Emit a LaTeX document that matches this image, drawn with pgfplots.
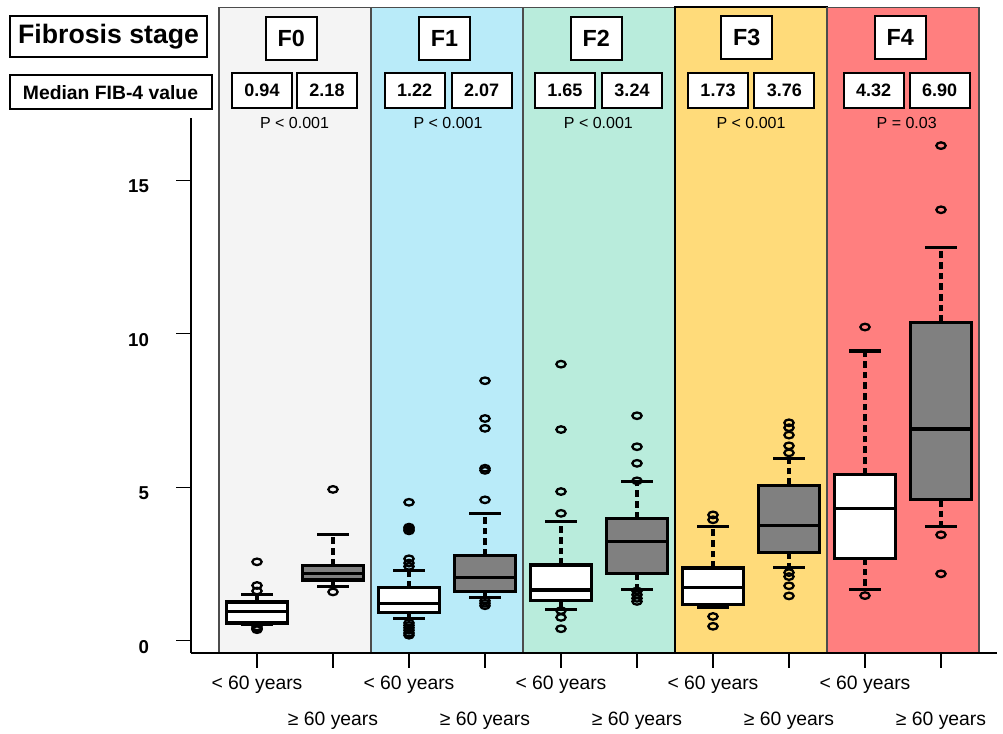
\documentclass[border=0pt]{standalone}
\usepackage{fontspec}
\setmainfont{Liberation Sans}
\usepackage{pgfplots}
\pgfplotsset{compat=1.18}
\usepgfplotslibrary{statistics}

\definecolor{cFa}{RGB}{244,244,244}
\definecolor{cFb}{RGB}{185,235,249}
\definecolor{cFc}{RGB}{185,236,220}
\definecolor{cFd}{RGB}{255,219,122}
\definecolor{cFe}{RGB}{255,127,127}
\definecolor{boxgray}{RGB}{128,128,128}

\pgfplotsset{
  boxplot/draw/lower whisker/.code={%
    \draw[line width=2.3pt, dash pattern=on 5pt off 3pt]
      (boxplot box cs:\pgfplotsboxplotvalue{lower quartile},0.5) --
      (boxplot box cs:\pgfplotsboxplotvalue{lower whisker},0.5);
    \draw[line width=2.3pt, solid]
      (boxplot whisker cs:\pgfplotsboxplotvalue{lower whisker},0) --
      (boxplot whisker cs:\pgfplotsboxplotvalue{lower whisker},1);
  },
  boxplot/draw/upper whisker/.code={%
    \draw[line width=2.3pt, dash pattern=on 5pt off 3pt]
      (boxplot box cs:\pgfplotsboxplotvalue{upper quartile},0.5) --
      (boxplot box cs:\pgfplotsboxplotvalue{upper whisker},0.5);
    \draw[line width=2.3pt, solid]
      (boxplot whisker cs:\pgfplotsboxplotvalue{upper whisker},0) --
      (boxplot whisker cs:\pgfplotsboxplotvalue{upper whisker},1);
  },
  rb/.style={draw=black, line width=2.4pt, solid,
    mark=o, mark size=3.5pt,
    mark options={yscale=0.7, line width=1.7pt, solid, draw=black},
    boxplot/every box/.style={fill=#1},
    boxplot/every median/.style={line width=2.4pt}},
  boxplot/draw direction=y,
  boxplot/box extend=0.8,
  boxplot/whisker extend=0.42,
}
\tikzset{
  hbox/.style={draw=black, line width=1.5pt, fill=white, inner sep=0pt,
    align=center},
}

\begin{document}
\begin{tikzpicture}
\path (0,0) rectangle (752.25pt,-549.75pt);
\begin{axis}[
  at={(143.25pt,-489.75pt)}, anchor=south west,
  scale only axis, width=604.5pt, height=401.25pt,
  xmin=0.1316, xmax=10.737, ymin=-0.40, ymax=17.03,
  axis x line*=bottom, axis y line*=left,
  axis line style={line width=1.9pt, -},
  clip=false, axis on top,
  xtick={1,3,5,7,9},
  xticklabels={< 60 years,< 60 years,< 60 years,< 60 years,< 60 years},
  extra x ticks={2,4,6,8,10},
  extra x tick labels={≥ 60 years,≥ 60 years,≥ 60 years,≥ 60 years,≥ 60 years},
  extra x tick style={xticklabel style={yshift=-26.5pt}},
  ytick={0,5,10,15},
  tick style={line width=1pt, black},
  major tick length=11pt,
  tick align=outside,
  xticklabel style={font=\fontsize{14.5}{16}\selectfont, yshift=-3pt},
  yticklabel style={font=\bfseries\fontsize{14}{16}\selectfont, xshift=-17pt, yshift=-4.5pt},
  /pgf/number format/assume math mode=true,
]
% panel backgrounds
\addplot[fill=cFa, draw=black!70, line width=1.1pt] coordinates {(0.5,-0.4) (0.5,20.63) (2.5,20.63) (2.5,-0.4)} -- cycle;
\addplot[fill=cFb, draw=black!70, line width=1.1pt] coordinates {(2.5,-0.4) (2.5,20.63) (4.5,20.63) (4.5,-0.4)} -- cycle;
\addplot[fill=cFc, draw=black!70, line width=1.1pt] coordinates {(4.5,-0.4) (4.5,20.63) (6.5,20.63) (6.5,-0.4)} -- cycle;
\addplot[fill=cFd, draw=black, line width=1.5pt] coordinates {(6.5,-0.4) (6.5,20.63) (8.5,20.63) (8.5,-0.4)} -- cycle;
\addplot[fill=cFe, draw=black!70, line width=1.1pt] coordinates {(8.5,-0.4) (8.5,20.63) (10.5,20.63) (10.5,-0.4)} -- cycle;

% F0
\addplot[rb=white, boxplot prepared={draw position=1, lower whisker=0.52, lower quartile=0.575, median=0.94, upper quartile=1.26, upper whisker=1.52}]
  table[row sep=\\, y index=0] {y\\ 2.57\\ 1.80\\ 1.62\\ 0.45\\ 0.40\\ 0.36\\};
\addplot[rb=boxgray, boxplot prepared={draw position=2, lower whisker=1.76, lower quartile=1.98, median=2.18, upper quartile=2.46, upper whisker=3.47}]
  table[row sep=\\, y index=0] {y\\ 4.93\\ 1.59\\};
% F1
\addplot[rb=white, boxplot prepared={draw position=3, lower whisker=0.715, lower quartile=0.93, median=1.22, upper quartile=1.73, upper whisker=2.29}]
  table[row sep=\\, y index=0] {y\\ 4.51\\ 3.70\\ 3.64\\ 3.58\\ 2.67\\ 2.53\\ 2.42\\ 0.58\\ 0.50\\ 0.42\\ 0.34\\ 0.25\\ 0.18\\};
\addplot[rb=boxgray, boxplot prepared={draw position=4, lower whisker=1.42, lower quartile=1.60, median=2.07, upper quartile=2.77, upper whisker=4.15}]
  table[row sep=\\, y index=0] {y\\ 8.47\\ 7.24\\ 6.92\\ 5.62\\ 5.55\\ 4.59\\ 1.30\\ 1.22\\ 1.14\\};
% F2
\addplot[rb=white, boxplot prepared={draw position=5, lower whisker=1.01, lower quartile=1.31, median=1.65, upper quartile=2.47, upper whisker=3.88}]
  table[row sep=\\, y index=0] {y\\ 9.01\\ 6.88\\ 4.86\\ 4.15\\ 0.98\\ 0.76\\ 0.39\\};
\addplot[rb=boxgray, boxplot prepared={draw position=6, lower whisker=1.68, lower quartile=2.18, median=3.24, upper quartile=3.99, upper whisker=5.18}]
  table[row sep=\\, y index=0] {y\\ 7.33\\ 6.32\\ 5.78\\ 5.21\\ 1.62\\ 1.50\\ 1.38\\ 1.28\\};
% F3
\addplot[rb=white, boxplot prepared={draw position=7, lower whisker=1.08, lower quartile=1.17, median=1.73, upper quartile=2.37, upper whisker=3.72}]
  table[row sep=\\, y index=0] {y\\ 4.10\\ 3.94\\ 0.79\\ 0.47\\};
\addplot[rb=boxgray, boxplot prepared={draw position=8, lower whisker=2.38, lower quartile=2.88, median=3.76, upper quartile=5.07, upper whisker=5.94}]
  table[row sep=\\, y index=0] {y\\ 7.10\\ 6.94\\ 6.70\\ 6.35\\ 6.12\\ 2.22\\ 2.09\\ 1.79\\ 1.46\\};
% F4
\addplot[rb=white, boxplot prepared={draw position=9, lower whisker=1.68, lower quartile=2.69, median=4.32, upper quartile=5.42, upper whisker=9.44}]
  table[row sep=\\, y index=0] {y\\ 10.22\\ 1.47\\};
\addplot[rb=boxgray, boxplot prepared={draw position=10, lower whisker=3.72, lower quartile=4.59, median=6.90, upper quartile=10.38, upper whisker=12.82}]
  table[row sep=\\, y index=0] {y\\ 16.13\\ 14.04\\ 3.45\\ 2.18\\};
\end{axis}

\begin{scope}[x=0.75pt, y=-0.75pt]
\node[hbox, minimum width=147.75pt, minimum height=30.75pt, font=\bfseries\fontsize{20}{22}\selectfont] at (108.6,36.6) {Fibrosis stage};
\node[hbox, minimum width=151.5pt, minimum height=25.5pt, font=\bfseries\fontsize{14.5}{16}\selectfont] at (110.5,92.1) {Median FIB-4 value};
\foreach \cx/\cy/\t in {291.2/38.3/F0, 444.5/38.3/F1, 596.3/38.7/F2, 746.8/37.2/F3, 900.3/37.8/F4}
  \node[hbox, minimum width=38.25pt, minimum height=32.25pt, font=\bfseries\fontsize{17.5}{20}\selectfont] at (\cx,\cy) {\t};
\foreach \cx/\t in {262/0.94, 327/2.18, 414.7/1.22, 481.7/2.07, 564.8/1.65, 632/3.24, 718/1.73, 784.3/3.76, 873.7/4.32, 939.7/6.90}
  \node[hbox, minimum width=45pt, minimum height=26.5pt, font=\bfseries\fontsize{13.5}{15}\selectfont] at (\cx,90.5) {\t};
\foreach \cx/\t in {294.5/P < 0.001, 448/P < 0.001, 598.4/P < 0.001, 751/P < 0.001, 906.7/P = 0.03}
  \node[inner sep=0pt, font=\fontsize{12}{14}\selectfont] at (\cx,123.3) {\t};
\end{scope}
\end{tikzpicture}
\end{document}
